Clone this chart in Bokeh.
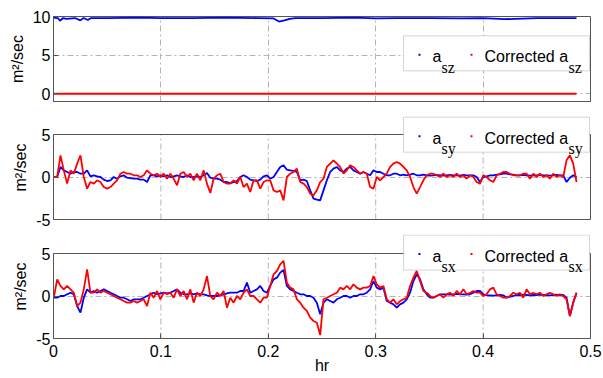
import numpy as np
from bokeh.plotting import figure
from bokeh.models import Range1d, FixedTicker, BoxAnnotation, Label, LinearAxis
from bokeh.layouts import column
from bokeh.embed import file_html
from bokeh.resources import INLINE

# ---------------- data ----------------
first_sample_hr = 0.0003
sample_step_hr = 0.0031

a_sy = [0, 0, 1.18, 0.78, 0.59, 0.39, 0.59, 0.59, 0.39, 0.39,
        0.78, 0.08, 0.2, 0.08, 0, -0.31, -0.47, -0.39, 0, -0.2,
        0.08, 0.2, -0.08, -0.12, -0.2, -0.2, -0.31, -0.31, -0.59, 0.2,
        0.2, 0.08, 0.2, 0.08, 0.2, 0, 0.08, 0.2, 0.08, 0,
        0.2, 0, 0, 0.08, 0, 0.2, 0.47, -0.08, -0.2, -0.2,
        -0.31, -0.59, -0.59, -0.71, -0.59, -0.47, 0, 0.2, 0, -0.31,
        -0.39, -0.47, -0.31, 0.08, 0.2, -0.2, 0, 0.59, 1.18, 1.37,
        0.86, 0.78, 0.71, 0.59, -0.39, -0.31, -0.47, -1.57, -2.55, -2.67,
        -2.75, -1.57, -0.39, 0.59, 0.98, 1.18, 0.78, 0.59, 0.98, 1.18,
        0.78, 0.59, 0.39, 0.59, 0.39, 0.2, 0.78, 0.59, 0.59, 0.39,
        0.2, 0.2, 0.39, 0.39, 0.2, 0.27, 0.2, 0.27, 0.39, 0.2,
        0.2, 0.27, 0.2, 0.16, 0.2, 0.24, 0.2, 0.16, 0.2, 0.24,
        0.2, 0.2, 0.16, 0.24, 0.2, 0.2, 0.2, 0, -0.59, 0,
        0.08, 0.2, 0.2, 0.27, 0.31, 0.39, 0.39, 0.31, 0.27, 0.2,
        0.2, 0.24, 0.2, 0.16, 0.2, 0.2, 0.24, 0.2, 0.2, 0.16,
        0.2, 0.24, 0.2, 0.2, -0.59, -0.08, 0.2, 0]

corrected_a_sy = [0, 0, 2.55, 0.78, -0.78, 0.78, 0.39, 1.57, 2.55, 0,
                  -1.37, -0.59, -0.78, -0.39, -0.59, -1.18, -1.37, -1.18, -0.78, -0.39,
                  0.39, 0.59, 0.39, 0.39, 0.2, 0.2, 0, 0.2, 0.78, 0.39,
                  0.2, 0.39, 0, 0.39, -0.2, 0.39, -0.2, -0.98, 0.39, 0.59,
                  0, 0.39, -0.39, 0.39, -0.39, 0.78, -0.78, -1.88, -0.2, 0.2,
                  0.39, -0.59, -0.78, -0.78, -0.39, -0.78, 0, -1.18, -0.78, -1.76,
                  -0.39, -0.39, -1.37, -0.59, -0.39, -0.39, -1.57, -1.76, -1.57, -2.75,
                  0, 0.39, 0.59, 0.98, -0.59, -0.78, -1.18, -1.96, -2.16, -1.57,
                  -0.59, -0.2, 1.18, 1.57, 1.96, 1.57, 1.18, 0.39, 0.78, 1.37,
                  1.18, 0.78, 0.39, 0.59, 0.39, -1.18, -1.37, 0, -0.39, 0,
                  0.39, 1.18, 1.57, 1.76, 1.57, 1.18, 0.78, 0, -1.18, -1.96,
                  -1.18, -0.39, 0.2, 0.39, 0.39, 0.2, 0, 0.39, 0, 0.2,
                  0, 0.39, 0, 0.2, -0.2, 0.2, 0, -0.59, -0.78, 0.2,
                  0, -0.39, -0.59, 0.2, 0.39, 0.59, 0.59, 0.39, 0.2, 0.2,
                  0.2, 0.39, 0.39, -0.2, 0.39, 0, 0.39, 0, 0.2, -0.2,
                  0.39, 0, 0.2, 0, 1.96, 2.55, 1.57, -0.59]

a_sx = [-0.2, -0.2, 0, 0, 0.2, 0.39, 0.2, -1.18, -1.96, -0.2,
        0.78, 0.39, 0.59, 0.39, 0.59, 0.78, 0.59, 0.39, 0.2, 0,
        -0.2, -0.2, -0.39, -0.59, -0.39, -0.39, -0.39, -0.2, 0, 0.2,
        0.39, 0.2, 0.31, 0.39, 0.31, 0.39, 0.59, 0.78, 0.39, 0.2,
        0.2, 0.31, 0.2, 0.31, 0.2, 0.2, 0.08, 0, 0, 0,
        0.08, 0.2, 0.31, 0.39, 0.39, 0.39, 0.59, 0.59, 1.57, 0.39,
        0.59, 0.78, 1.18, 0.59, 0.39, 1.18, 1.96, 2.16, 2.75, 3.06,
        1.18, 0.78, 0.59, 0.39, 0.2, 0.2, 0, 0, -0.2, -0.78,
        -2.16, -0.78, -0.39, -0.59, -0.78, -0.39, -0.2, 0, 0, -0.2,
        0, 0, 0.2, 0.2, 0.39, 0.78, 1.76, 0.98, 0.78, 0.98,
        -0.59, -0.78, -0.98, -1.37, -0.98, -0.78, -0.39, 0.39, 1.76, 2.55,
        1.96, 0.78, 0.2, -0.2, -0.2, 0, 0.2, 0.2, 0.2, 0.16,
        0.2, 0.24, 0.2, 0.2, 0.16, 0.2, 0.39, 0.59, 0.59, 0.2,
        0.08, 0.08, 0.04, 0.08, 0.12, 0.08, -0.2, -0.08, 0, 0.12,
        0.12, 0.16, 0.12, 0.08, 0.12, 0.12, 0.16, 0.12, 0.12, 0.08,
        0.12, 0.16, 0.12, 0.12, -0.2, -2.35, -0.78, 0.39]

corrected_a_sx = [-0.2, 1.96, 1.18, 0.78, 1.18, 0.78, 0.39, -1.18, -0.78, 0.78,
                  3.14, 0.39, 0.39, 0.78, 0.39, 0.59, 0.39, 0.2, 0, -0.2,
                  -0.39, -0.59, -0.78, -0.78, -0.59, -0.78, -0.59, -0.39, -1.18, 0.39,
                  -0.2, 0.59, -0.39, 0.39, 0.2, 0.39, -0.2, 0.78, 0, 0.59,
                  -0.39, 0.78, -0.78, 0.39, 0, 0.78, 2.35, 0, -0.39, 0.39,
                  0, 0.59, -1.37, -0.2, -0.78, 0, -0.39, 0.39, 0.78, 0,
                  0, -0.39, -0.78, -0.2, -0.2, 1.18, 2.55, 2.94, 3.73, 4.12,
                  1.57, 0.98, 0.78, -0.39, -0.78, -1.37, -1.76, -2.55, -2.94, -3.14,
                  -4.6, -0.39, -0.2, 0, 0.2, 0.39, 0.98, 0.78, 1.18, 0.78,
                  1.37, 0.98, 0.78, 0.98, 0.98, 1.18, 2.35, 1.37, 0.98, 1.18,
                  -0.39, -0.78, -0.39, -0.98, -0.59, -0.39, -0.2, 1.18, 2.16, 2.94,
                  1.76, 0.59, 0.39, 0, -0.2, 0, 0.2, -0.2, 0.2, 0.39,
                  0, 0.59, 0.2, 0.78, 0.2, 0.39, 0.59, 0.39, 0.39, 0,
                  0.2, 0.78, 0.98, 0.2, 0, -0.2, -0.2, 0, 0.39, 0.2,
                  0.39, -0.2, 0.78, 0.2, 0.39, 0.2, 0.39, 0, 0.2, 0.39,
                  0.2, 0, 0.2, 0, -0.39, -2.35, -0.78, 0.39]

a_sz_t = [0, 0.004, 0.006, 0.009, 0.012, 0.02, 0.025, 0.028, 0.032, 0.035,
          0.05, 0.08, 0.1, 0.13, 0.16, 0.19, 0.205, 0.21, 0.215, 0.22,
          0.225, 0.25, 0.28, 0.3, 0.32, 0.35, 0.38, 0.4, 0.42, 0.45, 0.47, 0.487]
a_sz = [9.85, 9.8, 9.45, 9.8, 9.7, 9.8, 9.5, 9.8, 9.55, 9.8,
        9.8, 9.85, 9.8, 9.8, 9.85, 9.8, 9.75, 9.35, 9.5, 9.7,
        9.8, 9.8, 9.85, 9.75, 9.8, 9.8, 9.75, 9.8, 9.65, 9.8, 9.8, 9.8]
corrected_a_sz_t = [0.0, 0.487]
corrected_a_sz = [0.0, 0.0]

x_ticks = [0, 0.1, 0.2, 0.3, 0.4, 0.5]
x_tick_labels = ["0", "0.1", "0.2", "0.3", "0.4", "0.5"]
sz_ticks = [0, 5, 10]
s_ticks = [-5, 0, 5]

t = first_sample_hr + sample_step_hr * np.arange(len(a_sy))

# ---------------- styling ----------------
FRAME_W = 537
BOX_H = 85          # visible axes box height (px)
EXT = 19            # extra frame room above the box for legends (px)
BLUE, RED = "#0000ff", "#ff0000"
AXC = "#555555"
GRIDC = "#b4b4b4"
DASH = "6 3 2 3"
FONT = "Liberation Sans"
SERIF = "Liberation Serif"


def style_common(p, yticks):
    p.background_fill_color = "white"
    p.border_fill_color = "white"
    p.yaxis.ticker = FixedTicker(ticks=yticks)
    p.yaxis.major_label_overrides = {v: str(v) for v in yticks}
    for ax in (p.xaxis[0], p.yaxis[0]):
        ax.axis_line_color = AXC
        ax.major_tick_line_color = AXC
        ax.major_tick_in = 5
        ax.major_tick_out = 0
        ax.minor_tick_line_color = None
        ax.major_label_text_font = FONT
        ax.major_label_text_font_size = "16px"
        ax.major_label_text_color = "black"
    p.yaxis.major_label_standoff = 3
    p.yaxis.axis_label = "m²/sec"
    p.yaxis.axis_label_text_font = FONT
    p.yaxis.axis_label_text_font_size = "16px"
    p.yaxis.axis_label_text_font_style = "normal"
    p.yaxis.axis_label_text_color = "black"
    p.yaxis.axis_label_standoff = 4
    p.ygrid.ticker = FixedTicker(ticks=yticks)
    g = p.ygrid[0]
    g.grid_line_color = GRIDC
    g.grid_line_dash = DASH


def add_legend(p, y_top, ppu, box_top_px, sub):
    """box_top_px: offset (px) of the legend box top from the top of the axes box."""
    def xd(px):
        return px / FRAME_W * 0.5

    def yd(py):
        return y_top - py / ppu

    p.add_layout(BoxAnnotation(left=xd(FRAME_W - 187), right=xd(FRAME_W - 1),
                               top=yd(box_top_px), bottom=yd(box_top_px + 35),
                               fill_color="white", fill_alpha=1.0,
                               line_color="#777777", line_width=1, level="overlay"))
    for r, col in ((171, BLUE), (119, RED)):
        cx = FRAME_W - r
        cy = box_top_px + 19
        p.add_layout(BoxAnnotation(left=xd(cx - 1), right=xd(cx + 1),
                                   top=yd(cy - 1), bottom=yd(cy + 1),
                                   fill_color=col, fill_alpha=1.0,
                                   line_color=None, level="overlay"))
    base = box_top_px + 21
    subbase = box_top_px + 31.5
    for r, txt, font in ((158, "a", FONT), (149, sub, SERIF),
                         (106, "Corrected a", FONT), (22, sub, SERIF)):
        p.add_layout(Label(x=xd(FRAME_W - r), y=yd(subbase if font == SERIF else base),
                           text=txt, text_font=font, text_font_size="16px",
                           text_color="black", text_align="left",
                           text_baseline="alphabetic", level="overlay"))


# ---------- top panel (a_sz) ----------
p1 = figure(frame_width=FRAME_W, frame_height=BOX_H,
            x_range=Range1d(0, 0.5), y_range=Range1d(-1, 10),
            output_backend="svg", toolbar_location=None,
            min_border_left=53, min_border_right=13,
            min_border_top=16, min_border_bottom=11)
style_common(p1, sz_ticks)
p1.outline_line_color = AXC
p1.xaxis.ticker = FixedTicker(ticks=[])
p1.xgrid.ticker = FixedTicker(ticks=x_ticks)
p1.xgrid.grid_line_color = GRIDC
p1.xgrid.grid_line_dash = DASH
p1.line(a_sz_t, a_sz, line_color=BLUE, line_width=1.8)
p1.line(corrected_a_sz_t, corrected_a_sz, line_color=RED, line_width=2.2)
add_legend(p1, 10, BOX_H / 11, 19.3, "sz")


def make_ext_panel(top_b, bot_b, show_x):
    ppu = BOX_H / 10
    y1 = 5 + EXT / ppu
    p = figure(frame_width=FRAME_W, frame_height=BOX_H + EXT,
               x_range=Range1d(0, 0.5), y_range=Range1d(-5, y1),
               output_backend="svg", toolbar_location=None,
               min_border_left=53, min_border_right=13,
               min_border_top=top_b, min_border_bottom=bot_b)
    style_common(p, s_ticks)
    p.outline_line_color = None
    p.yaxis.bounds = (s_ticks[0], s_ticks[-1])
    right = LinearAxis(ticker=FixedTicker(ticks=[]), bounds=(s_ticks[0], s_ticks[-1]),
                       axis_line_color=AXC)
    p.add_layout(right, "right")
    if show_x:
        p.xaxis.ticker = FixedTicker(ticks=x_ticks)
        p.xaxis.major_label_overrides = {v: s for v, s in zip(x_ticks, x_tick_labels)}
        p.xaxis.major_label_standoff = 6
        p.xaxis.axis_label = "hr"
        p.xaxis.axis_label_text_font = FONT
        p.xaxis.axis_label_text_font_size = "16px"
        p.xaxis.axis_label_text_font_style = "normal"
        p.xaxis.axis_label_text_color = "black"
        p.xaxis.axis_label_standoff = -3
    else:
        p.xaxis.ticker = FixedTicker(ticks=[])
    p.xgrid.visible = False
    inner = x_ticks[1:-1]
    p.multi_line(xs=[[x, x] for x in inner],
                 ys=[[s_ticks[0], s_ticks[-1]] for _ in inner],
                 line_color=GRIDC, line_dash=DASH, line_width=1, level="underlay")
    # top edge of the axes box
    p.line([x_ticks[0], x_ticks[-1]], [s_ticks[-1], s_ticks[-1]],
           line_color=AXC, line_width=1)
    return p, ppu


# ---------- middle panel (a_sy) ----------
p2, ppu2 = make_ext_panel(3, 13, False)
p2.line(t, a_sy, line_color=BLUE, line_width=1.8)
p2.line(t, corrected_a_sy, line_color=RED, line_width=1.8)
add_legend(p2, 5, ppu2, -17.3, "sy")

# ---------- bottom panel (a_sx) ----------
p3, ppu3 = make_ext_panel(2, 40, True)
p3.line(t, a_sx, line_color=BLUE, line_width=1.8)
p3.line(t, corrected_a_sx, line_color=RED, line_width=1.8)
add_legend(p3, 5, ppu3, -18.4, "sx")

layout = column(p1, p2, p3)
open("out.html", "w").write(file_html(layout, INLINE))
